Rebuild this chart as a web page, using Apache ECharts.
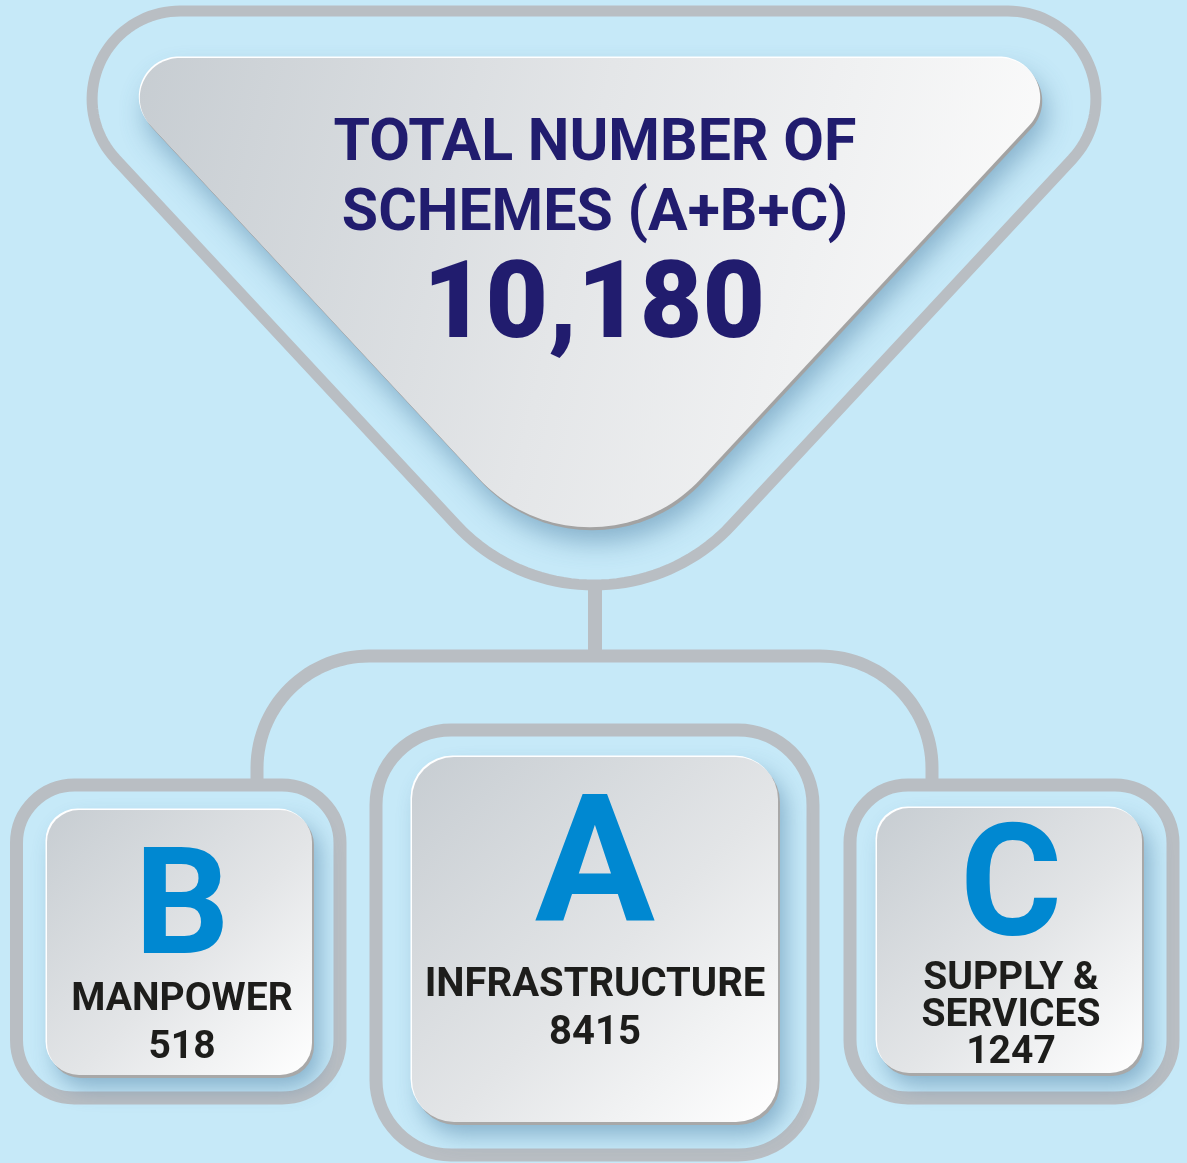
<!DOCTYPE html>
<html>
<head>
<meta charset="utf-8">
<script src="https://cdn.jsdelivr.net/npm/echarts@6/dist/echarts.min.js"></script>
<style>
html,body{margin:0;padding:0;background:#c6e9f8;}
#main{width:1187px;height:1163px;}
</style>
</head>
<body>
<div id="main"></div>
<script>
// ---- data ----
const titleLines = ['TOTAL NUMBER OF', 'SCHEMES (A+B+C)'];
const letters = ['B', 'A', 'C'];
const categories = ['MANPOWER', 'INFRASTRUCTURE', 'SUPPLY &\nSERVICES'];
const values = [518, 8415, 1247];
const total = values.reduce((a, b) => a + b, 0);

// ---- layout ----
const BG = '#c6e9f8', LINE = '#b9bec3', NAVY = '#211c6e', BLUE = '#0088d1', INK = '#1d1d1b';
const FONT = 'Roboto, "Open Sans", sans-serif';
const cards = [
  { outer: [16.5, 785, 323.5, 313, 58], inner: [47, 810, 265, 265, 32], cx: 182, letterY: 916, letterSize: 149, labelY: 1000, size: 39 },
  { outer: [376, 730, 437, 425, 75], inner: [412, 757, 366, 365, 42], cx: 595, letterY: 876, letterSize: 179, labelY: 986, size: 40 },
  { outer: [850, 785, 323, 313, 58], inner: [877, 808, 265, 265, 32], cx: 1011, letterY: 895, letterSize: 156, labelY: 979, size: 39 }
];

function roundedPoly(pts, radii, seg) {
  const out = [], n = pts.length;
  for (let i = 0; i < n; i++) {
    const V = pts[i], P = pts[(i - 1 + n) % n], N = pts[(i + 1) % n], r = radii[i];
    let u1 = [P[0] - V[0], P[1] - V[1]], u2 = [N[0] - V[0], N[1] - V[1]];
    const l1 = Math.hypot(u1[0], u1[1]), l2 = Math.hypot(u2[0], u2[1]);
    u1 = [u1[0] / l1, u1[1] / l1]; u2 = [u2[0] / l2, u2[1] / l2];
    const th = Math.acos(u1[0] * u2[0] + u1[1] * u2[1]);
    const d = r / Math.tan(th / 2);
    const T1 = [V[0] + u1[0] * d, V[1] + u1[1] * d], T2 = [V[0] + u2[0] * d, V[1] + u2[1] * d];
    let b = [u1[0] + u2[0], u1[1] + u2[1]]; const lb = Math.hypot(b[0], b[1]); b = [b[0] / lb, b[1] / lb];
    const h = r / Math.sin(th / 2);
    const C = [V[0] + b[0] * h, V[1] + b[1] * h];
    const a1 = Math.atan2(T1[1] - C[1], T1[0] - C[0]);
    const a2 = Math.atan2(T2[1] - C[1], T2[0] - C[0]);
    let da = a2 - a1;
    while (da > Math.PI) da -= 2 * Math.PI;
    while (da < -Math.PI) da += 2 * Math.PI;
    for (let k = 0; k <= seg; k++) {
      const a = a1 + da * k / seg;
      out.push([C[0] + r * Math.cos(a), C[1] + r * Math.sin(a)]);
    }
  }
  return out;
}
function shift(pts, dx, dy) { return pts.map(p => [p[0] + dx, p[1] + dy]); }
function arcPts(cx, cy, r, a1, a2, seg) {
  const o = [];
  for (let k = 0; k <= seg; k++) { const a = a1 + (a2 - a1) * k / seg; o.push([cx + r * Math.cos(a), cy + r * Math.sin(a)]); }
  return o;
}
function lin(x, y, x2, y2, stops) {
  return { type: 'linear', x: x, y: y, x2: x2, y2: y2, colorStops: stops, global: false };
}

const els = [];
// outer triangle outline
const outerTri = roundedPoly([[-22, 11], [1210, 11], [594, 673]], [88, 88, 188], 40);
els.push({ type: 'polygon', shape: { points: outerTri }, style: { fill: 'none', stroke: LINE, lineWidth: 11 }, z: 1 });

// connector + bracket
els.push({ type: 'line', shape: { x1: 595, y1: 585, x2: 595, y2: 656 }, style: { stroke: LINE, lineWidth: 14 }, z: 1 });
const br = 112;
const bracket = [[257, 790]]
  .concat(arcPts(257 + br, 656 + br, br, Math.PI, Math.PI * 1.5, 30))
  .concat(arcPts(932 - br, 656 + br, br, Math.PI * 1.5, Math.PI * 2, 30))
  .concat([[932, 790]]);
els.push({ type: 'polyline', shape: { points: bracket }, style: { fill: 'none', stroke: LINE, lineWidth: 13 }, z: 1 });

// inner triangle
const innerTri = roundedPoly([[88, 58], [1092, 58], [590, 598]], [40, 40, 151], 40);
els.push({ type: 'polygon', shape: { points: shift(innerTri, 2, 3) }, style: { fill: '#a3a3a3', shadowBlur: 26, shadowColor: 'rgba(60,110,150,0.45)', shadowOffsetX: 4, shadowOffsetY: 12 }, z: 2 });
els.push({ type: 'polygon', shape: { points: shift(innerTri, -1, -1.5) }, style: { fill: '#ffffff' }, z: 3 });
els.push({
  type: 'polygon', shape: { points: innerTri }, style: {
    fill: lin(0, 0, 1, 0.45, [
      { offset: 0, color: '#c7cdd2' }, { offset: 0.5, color: '#e4e6e8' }, { offset: 1, color: '#fbfbfb' }
    ])
  }, z: 4
});

// title text
els.push({ type: 'text', x: 595, y: 145, style: { text: titleLines[0], font: 'bold 59px ' + FONT, fill: NAVY, align: 'center', verticalAlign: 'middle' }, z: 5 });
els.push({ type: 'text', x: 595, y: 215, style: { text: titleLines[1], font: 'bold 59px ' + FONT, fill: NAVY, align: 'center', verticalAlign: 'middle' }, z: 5 });
els.push({ type: 'text', x: 594, y: 310, style: { text: total.toLocaleString('en-US'), font: '900 108px ' + FONT, fill: NAVY, align: 'center', verticalAlign: 'middle' }, z: 5 });

// cards
cards.forEach((c, i) => {
  const [ox, oy, ow, oh, or] = c.outer;
  els.push({ type: 'rect', shape: { x: ox, y: oy, width: ow, height: oh, r: or }, style: { fill: 'none', stroke: LINE, lineWidth: 13 }, z: 1 });
  const [x, y, w, h, r] = c.inner;
  els.push({ type: 'rect', shape: { x: x + 2, y: y + 3, width: w, height: h, r: r }, style: { fill: '#a8a8a8', shadowBlur: 22, shadowColor: 'rgba(60,110,150,0.45)', shadowOffsetX: 6, shadowOffsetY: 10 }, z: 2 });
  els.push({ type: 'rect', shape: { x: x - 1.5, y: y - 1.5, width: w, height: h, r: r }, style: { fill: '#ffffff' }, z: 3 });
  els.push({
    type: 'rect', shape: { x: x, y: y, width: w, height: h, r: r }, style: {
      fill: lin(0, 0, 1, 1, [
        { offset: 0, color: '#c7cdd2' }, { offset: 0.55, color: '#e3e5e7' }, { offset: 1, color: '#ffffff' }
      ])
    }, z: 4
  });
  els.push({ type: 'text', x: c.cx, y: c.letterY, style: { text: letters[i], font: 'bold ' + c.letterSize + 'px ' + FONT, fill: BLUE, align: 'center', verticalAlign: 'middle' }, z: 5 });
  const lines = categories[i].split('\n').concat([String(values[i])]);
  lines.forEach((t, k) => {
    const step = lines.length > 2 ? 37 : 48;
    els.push({ type: 'text', x: c.cx, y: c.labelY + k * step, style: { text: t, font: 'bold ' + c.size + 'px ' + FONT, fill: INK, align: 'center', verticalAlign: 'middle' }, z: 5 });
  });
});

const chart = echarts.init(document.getElementById('main'), null, { renderer: 'canvas' });
chart.setOption({ backgroundColor: BG, animation: false, graphic: { elements: els } });
</script>
</body>
</html>
